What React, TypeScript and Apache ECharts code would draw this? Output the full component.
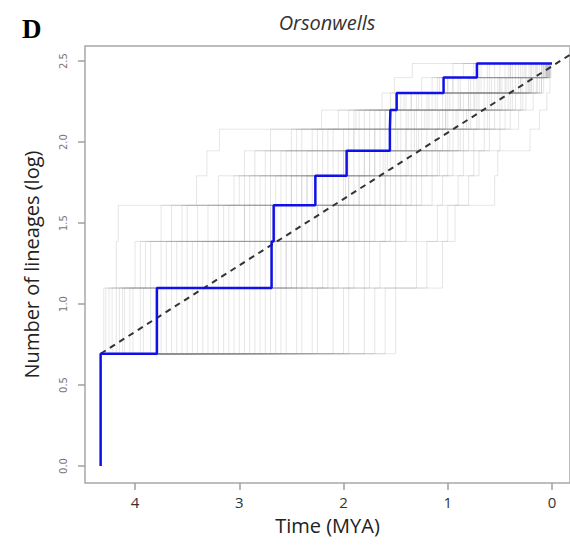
import React, { useEffect, useRef } from "react";
import * as echarts from "echarts";

// Time (MYA) of the root, shared by every tree
const ROOT_AGE = 4.33;
// Time of each split 2->3, 3->4, ... 11->12 for the reference (blue) tree
const BLUE_SPLITS = [3.79, 2.69, 2.67, 2.27, 1.97, 1.555, 1.55, 1.49, 1.04, 0.72];
// Split times for the sampled (gray) trees
const GRAY_TREES: number[][] = [
  [4.25, 3.9, 3.4, 2.9, 2.6, 2.3, 1.9, 1.4, 1.0, 0.6],
  [4.1, 3.6, 3.2, 2.7, 2.4, 2.1, 1.6, 1.2, 0.8, 0.4],
  [3.95, 3.5, 2.9, 2.5, 2.2, 1.8, 1.5, 1.1, 0.7, 0.3],
  [3.8, 3.3, 2.8, 2.4, 1.9, 1.7, 1.3, 0.9, 0.5, 0.2],
  [3.7, 3.0, 2.6, 2.2, 1.8, 1.5, 1.2, 0.8, 0.45, 0.15],
  [3.55, 3.2, 2.75, 2.3, 2.0, 1.6, 1.35, 1.05, 0.65, 0.25],
  [3.4, 2.95, 2.5, 2.1, 1.75, 1.45, 1.15, 0.85, 0.55, 0.1],
  [3.3, 2.8, 2.4, 1.95, 1.65, 1.35, 1.1, 0.7, 0.4, 0.12],
  [3.2, 2.7, 2.35, 1.85, 1.55, 1.25, 0.95, 0.75, 0.35, 0.08],
  [3.05, 2.6, 2.2, 1.9, 1.6, 1.3, 1.0, 0.65, 0.3, 0.05],
  [2.95, 2.5, 2.1, 1.7, 1.45, 1.15, 0.9, 0.6, 0.28, 0.1],
  [2.8, 2.4, 2.0, 1.65, 1.4, 1.1, 0.85, 0.55, 0.25, 0.07],
  [2.7, 2.3, 1.95, 1.6, 1.3, 1.0, 0.8, 0.5, 0.22, 0.05],
  [2.55, 2.2, 1.85, 1.5, 1.25, 0.95, 0.7, 0.45, 0.2, 0.04],
  [2.4, 2.05, 1.75, 1.45, 1.15, 0.9, 0.65, 0.4, 0.18, 0.03],
  [2.25, 1.9, 1.6, 1.35, 1.1, 0.85, 0.6, 0.38, 0.15, 0.05],
  [2.1, 1.75, 1.5, 1.25, 1.0, 0.8, 0.55, 0.35, 0.14, 0.02],
  [1.95, 1.65, 1.4, 1.15, 0.95, 0.75, 0.5, 0.3, 0.12, 0.03],
  [1.8, 1.5, 1.3, 1.05, 0.85, 0.65, 0.45, 0.28, 0.1, 0.02],
  [1.5, 1.05, 0.93, 0.55, 0.52, 0.21, 0.12, 0.05, 0.02, 0.01],
  [4.3, 4.18, 4.16, 3.41, 3.31, 3.19, 2.21, 1.63, 1.51, 1.34],
  [4.28, 4.0, 3.75, 3.2, 2.95, 2.7, 2.05, 1.55, 1.25, 0.95],
  [4.15, 3.75, 3.55, 3.05, 2.75, 2.5, 1.8, 1.45, 1.15, 0.85],
  [4.05, 3.85, 3.65, 2.95, 2.85, 2.45, 1.7, 1.3, 1.0, 0.7],
  [3.85, 3.45, 3.05, 2.65, 2.35, 2.0, 1.75, 1.35, 0.9, 0.5],
  [3.6, 3.1, 2.65, 2.6, 2.25, 1.95, 1.6, 1.25, 0.95, 0.55],
  [3.35, 3.05, 2.85, 2.45, 2.1, 1.85, 1.4, 1.0, 0.6, 0.35],
  [3.15, 2.9, 2.55, 2.35, 1.95, 1.75, 1.45, 1.15, 0.75, 0.45],
  [2.9, 2.65, 2.3, 2.05, 1.85, 1.55, 1.25, 0.95, 0.58, 0.32],
  [2.6, 2.35, 2.15, 1.8, 1.7, 1.4, 1.05, 0.8, 0.48, 0.26],
  [4.22, 3.7, 3.3, 2.85, 2.5, 2.2, 1.85, 1.35, 0.95, 0.62],
  [4.18, 3.95, 3.5, 3.0, 2.7, 2.4, 1.95, 1.5, 1.1, 0.75],
  [4.12, 3.55, 3.1, 2.75, 2.45, 2.15, 1.65, 1.28, 0.88, 0.42],
  [4.02, 3.4, 2.95, 2.55, 2.3, 1.9, 1.55, 1.18, 0.78, 0.38],
  [3.92, 3.65, 3.15, 2.8, 2.55, 2.25, 1.88, 1.42, 1.08, 0.68],
  [3.75, 3.35, 2.7, 2.35, 2.05, 1.65, 1.38, 0.98, 0.62, 0.22],
  [3.65, 3.25, 2.95, 2.5, 2.15, 1.9, 1.5, 1.12, 0.72, 0.28],
  [3.5, 2.85, 2.45, 2.15, 1.8, 1.55, 1.22, 0.88, 0.5, 0.18],
  [3.45, 3.15, 2.7, 2.4, 2.0, 1.7, 1.32, 1.02, 0.68, 0.4],
  [3.25, 2.75, 2.25, 2.0, 1.7, 1.4, 1.08, 0.78, 0.42, 0.14],
  [3.1, 2.55, 2.4, 1.98, 1.62, 1.28, 1.02, 0.72, 0.38, 0.09],
  [3.0, 2.45, 2.05, 1.75, 1.5, 1.2, 0.92, 0.62, 0.32, 0.06],
  [2.85, 2.55, 2.25, 1.95, 1.75, 1.48, 1.18, 0.88, 0.52, 0.2],
  [2.75, 2.15, 1.9, 1.55, 1.35, 1.05, 0.78, 0.52, 0.24, 0.04],
  [2.65, 2.45, 2.05, 1.85, 1.58, 1.32, 1.02, 0.74, 0.44, 0.16],
  [2.45, 2.1, 1.8, 1.6, 1.38, 1.12, 0.82, 0.58, 0.3, 0.08],
  [2.3, 1.95, 1.7, 1.4, 1.2, 0.98, 0.72, 0.48, 0.22, 0.06],
  [2.0, 1.8, 1.55, 1.3, 1.08, 0.88, 0.62, 0.42, 0.2, 0.05],
  [1.7, 1.3, 1.1, 0.9, 0.75, 0.6, 0.4, 0.25, 0.1, 0.03],
  [1.6, 1.2, 1.0, 0.8, 0.7, 0.5, 0.32, 0.18, 0.08, 0.02],
];
// Expected-growth reference line endpoints [time, log lineages]
const DASHED_LINE = [
  [4.33, 0.693],
  [-0.17, 2.538],
];
const X_TICKS = [0, 1, 2, 3, 4];
const Y_TICKS = [0, 0.5, 1, 1.5, 2, 2.5];

function stepPoints(root: number, splits: number[], withStem: boolean) {
  const pts: number[][] = [];
  if (withStem) pts.push([root, Math.log(1)]);
  let n = 2;
  pts.push([root, Math.log(n)]);
  for (const t of splits) {
    pts.push([t, Math.log(n)]);
    n += 1;
    pts.push([t, Math.log(n)]);
  }
  pts.push([0, Math.log(n)]);
  return pts;
}

export default function App() {
  const ref = useRef<HTMLDivElement>(null);
  useEffect(() => {
    if (!ref.current) return;
    const chart = echarts.init(ref.current, undefined, { renderer: "svg" });
    const graySeries = GRAY_TREES.map((s) => ({
      type: "line",
      data: stepPoints(ROOT_AGE, s, false),
      showSymbol: false,
      symbol: "none",
      silent: true,
      lineStyle: { color: "rgba(140,140,140,0.22)", width: 1 },
      z: 1,
    }));
    chart.setOption({
      animation: false,
      backgroundColor: "#ffffff",
      grid: {
        left: 85,
        top: 46,
        width: 485,
        height: 437,
        show: true,
        borderColor: "#a8a8a8",
        borderWidth: 1.5,
        backgroundColor: "transparent",
      },
      xAxis: {
        type: "value",
        inverse: true,
        min: -0.173,
        max: 4.48,
        axisLine: { show: false, onZero: false },
        splitLine: { show: false },
        axisTick: {
          show: true,
          inside: false,
          length: 7,
          customValues: X_TICKS,
          lineStyle: { color: "#a0a0a0", width: 1.5 },
        },
        axisLabel: {
          customValues: X_TICKS,
          formatter: (v: number) => String(v),
          color: "#333",
          fontSize: 15,
          fontFamily: "Open Sans",
          margin: 11,
        },
        name: "Time (MYA)",
        nameLocation: "middle",
        nameGap: 32,
        nameTextStyle: { color: "#222", fontSize: 20, fontFamily: "Open Sans" },
      },
      yAxis: {
        type: "value",
        min: -0.105,
        max: 2.593,
        axisLine: { show: false, onZero: false },
        splitLine: { show: false },
        axisTick: {
          show: true,
          inside: false,
          length: 7,
          customValues: Y_TICKS,
          lineStyle: { color: "#a0a0a0", width: 1.5 },
        },
        axisLabel: {
          customValues: Y_TICKS,
          rotate: 90,
          formatter: (v: number) => v.toFixed(1),
          color: "#777",
          fontSize: 10,
          fontFamily: "DejaVu Sans",
          margin: 17,
        },
        name: "Number of lineages (log)",
        nameLocation: "middle",
        nameGap: 44,
        nameRotate: 90,
        nameTextStyle: { color: "#222", fontSize: 20, fontFamily: "Open Sans" },
      },
      graphic: [
        {
          type: "text",
          left: 22,
          top: 15,
          style: {
            text: "D",
            font: "bold 27px 'Liberation Serif'",
            fill: "#000",
          },
        },
        {
          type: "text",
          x: 327,
          y: 22,
          style: {
            text: "Orsonwells",
            font: "italic 20px 'Open Sans'",
            fill: "#333",
            align: "center",
            verticalAlign: "middle",
          },
        },
      ],
      series: [
        ...graySeries,
        {
          type: "line",
          data: DASHED_LINE,
          showSymbol: false,
          symbol: "none",
          silent: true,
          lineStyle: { color: "#333333", width: 2, type: [6, 5] },
          z: 3,
        },
        {
          type: "line",
          data: stepPoints(ROOT_AGE, BLUE_SPLITS, true),
          showSymbol: false,
          symbol: "none",
          silent: true,
          lineStyle: { color: "#1010e8", width: 2.5 },
          z: 4,
        },
      ],
    });
    return () => chart.dispose();
  }, []);
  return (
    <div
      ref={ref}
      style={{ position: "fixed", left: 0, top: 0, width: 570, height: 548 }}
    />
  );
}
